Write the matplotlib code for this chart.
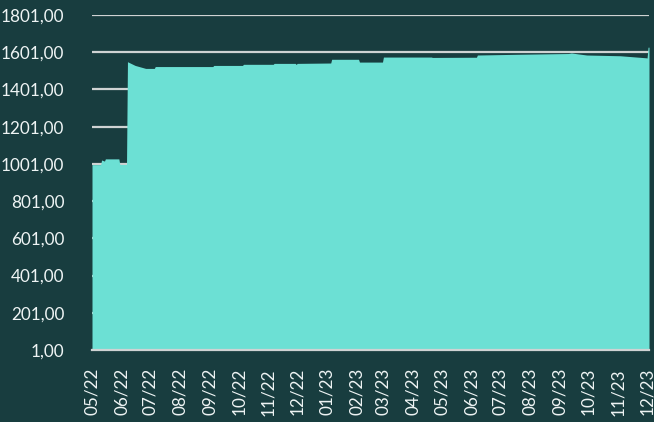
import matplotlib
matplotlib.use("Agg")
import matplotlib.pyplot as plt
import matplotlib.dates as mdates
import pandas as pd
from matplotlib.ticker import FuncFormatter

# Breakpoints of the series (date, value)
dates = [
    "2022-05-01", "2022-05-10", "2022-05-11", "2022-05-14", "2022-05-15",
    "2022-05-29", "2022-05-30", "2022-06-06", "2022-06-07", "2022-06-15",
    "2022-06-26", "2022-07-05", "2022-07-06", "2022-09-04", "2022-09-05",
    "2022-10-05", "2022-10-06", "2022-11-06", "2022-11-07", "2022-11-29",
    "2022-11-30", "2022-12-01", "2023-01-05", "2023-01-06", "2023-02-03",
    "2023-02-04", "2023-02-28", "2023-03-01", "2023-04-20", "2023-04-21",
    "2023-06-06", "2023-06-07", "2023-07-20", "2023-09-10", "2023-09-13",
    "2023-09-20", "2023-09-29", "2023-11-03", "2023-11-30", "2023-12-01",
    "2023-12-02", "2023-12-03",
]
values = [
    997, 997, 1022, 1016, 1028,
    1028, 998, 998, 1550, 1530,
    1514, 1514, 1524, 1524, 1530,
    1530, 1536, 1536, 1541, 1541,
    1535, 1541, 1543, 1563, 1563,
    1548, 1548, 1575, 1575, 1573,
    1574, 1586, 1590, 1594, 1597,
    1592, 1586, 1582, 1571, 1570,
    1628, 1628,
]

y_ticks = [1, 201, 401, 601, 801, 1001, 1201, 1401, 1601, 1801]

BG = "#183d3f"
FILL = "#6ce0d4"
GRID = "#cfd3d3"
TEXT = "#eef4f4"

x = pd.to_datetime(dates)

fig = plt.figure(figsize=(6.54, 4.22), dpi=100, facecolor=BG)
ax = fig.add_axes([92 / 654, 1 - 350 / 422, (649 - 92) / 654, (350 - 15) / 422])
ax.set_facecolor(BG)

ax.fill_between(x, values, y_ticks[0], color=FILL, linewidth=0, zorder=3)

ax.set_ylim(y_ticks[0], y_ticks[-1])
ax.set_yticks(y_ticks)
ax.yaxis.set_major_formatter(FuncFormatter(lambda v, p: f"{v:.2f}".replace(".", ",")))
ax.set_xlim(pd.Timestamp("2022-05-01"), pd.Timestamp("2023-12-03"))
ax.xaxis.set_major_locator(mdates.MonthLocator())
ax.xaxis.set_major_formatter(mdates.DateFormatter("%m/%y"))

ax.grid(axis="y", color=GRID, linewidth=1.6, zorder=1)
ax.set_axisbelow(True)
for side in ("left", "right", "top"):
    ax.spines[side].set_visible(False)
ax.spines["bottom"].set_color(GRID)
ax.spines["bottom"].set_linewidth(1.6)
ax.spines["bottom"].set_zorder(4)

ax.tick_params(axis="y", length=0, pad=20, labelsize=12.3, labelcolor=TEXT)
ax.tick_params(axis="x", length=0, pad=13, labelsize=12.3, labelcolor=TEXT, rotation=90)
for lab in ax.get_xticklabels() + ax.get_yticklabels():
    lab.set_fontfamily(["Lato", "DejaVu Sans"])

fig.savefig("out.png", dpi=100, facecolor=BG)
